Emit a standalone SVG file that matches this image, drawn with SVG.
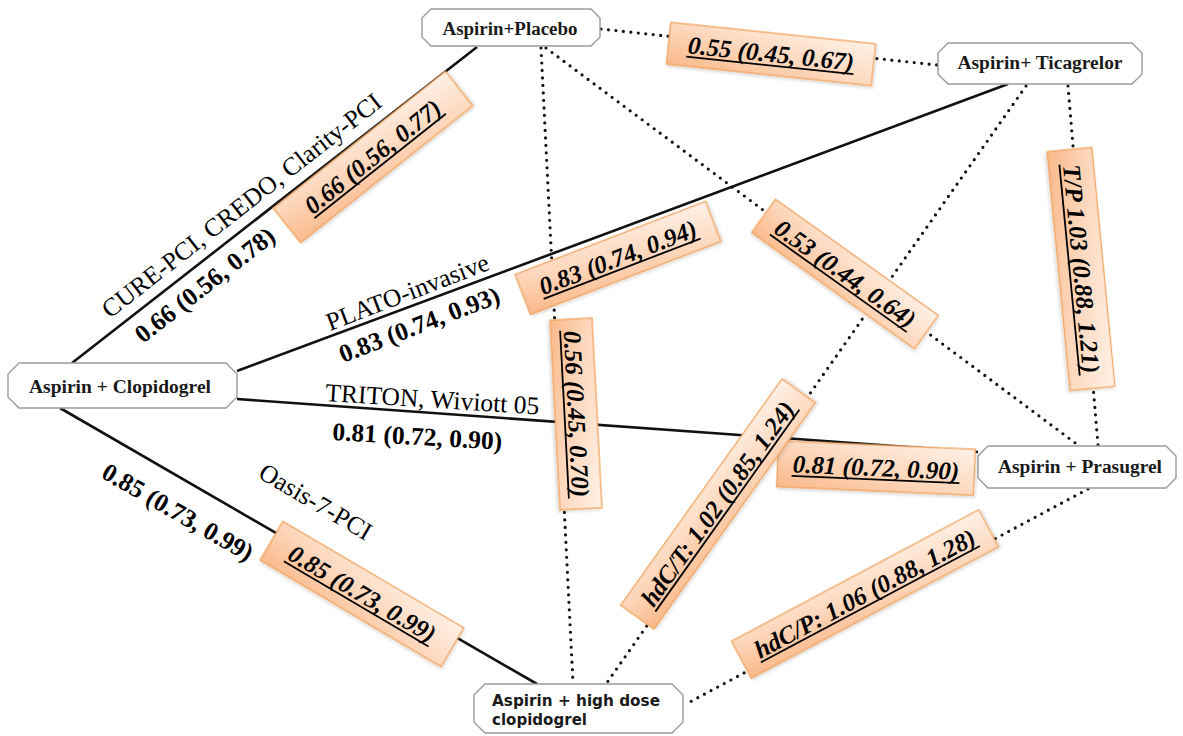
<svg xmlns="http://www.w3.org/2000/svg" width="1183" height="736" viewBox="0 0 1183 736">
<style>
.solid{stroke:#111;stroke-width:2.6;fill:none}
.dot{stroke:#111;stroke-width:3.2;fill:none;stroke-linecap:round;stroke-dasharray:0 7.5}
.node{fill:#fff;stroke:#9a9a9a;stroke-width:1.4}
.nt{font-family:"Liberation Serif",serif;font-weight:bold;font-size:18px;fill:#1a1a1a;text-anchor:middle}
.ns{font-family:"DejaVu Sans",sans-serif;font-weight:bold;font-size:15px;fill:#1a1a1a}
.b{fill:url(#og);stroke:#f2a45c;stroke-width:1.3;filter:url(#sh)}
.bt{font-family:"Liberation Serif",serif;font-weight:bold;font-style:italic;font-size:25px;fill:#000;text-anchor:middle}
.ul{stroke:#000;stroke-width:1.8}
.lr{font-family:"Liberation Serif",serif;font-size:25.5px;fill:#000}
.lb{font-family:"Liberation Serif",serif;font-weight:bold;font-size:25.5px;fill:#000}
</style>
<defs>
<linearGradient id="og" x1="0" y1="1" x2="1" y2="0">
<stop offset="0" stop-color="#f9b98a"/>
<stop offset="0.45" stop-color="#fdd6ba"/>
<stop offset="1" stop-color="#fff1e7"/>
</linearGradient>
<filter id="sh" x="-10%" y="-30%" width="120%" height="160%">
<feDropShadow dx="1.5" dy="2" stdDeviation="1.5" flood-color="#000" flood-opacity="0.15"/>
</filter>
</defs>
<rect width="1183" height="736" fill="#fff"/>
<g id="connectors">
<line class="solid" x1="72" y1="363" x2="477" y2="47"/>
<line class="solid" x1="237" y1="371" x2="1008" y2="84"/>
<line class="solid" x1="237" y1="399" x2="978" y2="452"/>
<line class="solid" x1="60" y1="408" x2="537" y2="684"/>
<line class="dot" x1="601" y1="29" x2="937" y2="65"/>
<line class="dot" x1="541" y1="48" x2="573" y2="683"/>
<line class="dot" x1="546" y1="48" x2="1078" y2="445"/>
<line class="dot" x1="1026" y1="86" x2="606" y2="684"/>
<line class="dot" x1="1068" y1="86" x2="1098" y2="445"/>
<line class="dot" x1="1088" y1="489" x2="686" y2="704"/>
</g>
<g id="node-placebo">
<polygon class="node" points="431,9 591,9 600,18 600,37 591,46 431,46 422,37 422,18"/>
<text class="nt" x="510" y="35" textLength="135" lengthAdjust="spacingAndGlyphs">Aspirin+Placebo</text>
</g>
<g id="node-ticagrelor">
<polygon class="node" points="948,43 1132,43 1142,53 1142,74 1132,84 948,84 938,74 938,53"/>
<text class="nt" x="1040" y="69" textLength="165" lengthAdjust="spacingAndGlyphs">Aspirin+ Ticagrelor</text>
</g>
<g id="node-clopidogrel">
<polygon class="node" points="19,363 226,363 237,374 237,397 226,408 19,408 8,397 8,374"/>
<text class="nt" x="120" y="393" textLength="182" lengthAdjust="spacingAndGlyphs">Aspirin + Clopidogrel</text>
</g>
<g id="node-prasugrel">
<polygon class="node" points="988,446 1166,446 1176,456 1176,478 1166,488 988,488 978,478 978,456"/>
<text class="nt" x="1080" y="473" textLength="164" lengthAdjust="spacingAndGlyphs">Aspirin + Prasugrel</text>
</g>
<g id="node-highdose">
<polygon class="node" points="485,684 672,684 683,695 683,722 672,733 485,733 474,722 474,695"/>
<text class="ns" x="492" y="706" textLength="168" lengthAdjust="spacingAndGlyphs">Aspirin + high dose</text>
<text class="ns" x="492" y="725" textLength="95" lengthAdjust="spacingAndGlyphs">clopidogrel</text>
</g>
<g id="edge-labels">
<g transform="translate(771,54) rotate(6)"><rect class="b" x="-103" y="-21" width="206" height="42"/><text class="bt" y="8">0.55 (0.45, 0.67)</text><line class="ul" x1="-84" y1="11.5" x2="84" y2="11.5"/></g>
<g transform="translate(373,157) rotate(-38.5)"><rect class="b" x="-110" y="-22" width="220" height="44"/><text class="bt" y="8">0.66 (0.56, 0.77)</text><line class="ul" x1="-84" y1="11.5" x2="84" y2="11.5"/></g>
<g transform="translate(618,258) rotate(-21)"><rect class="b" x="-102" y="-21.5" width="204" height="43"/><text class="bt" y="8">0.83 (0.74, 0.94)</text><line class="ul" x1="-84" y1="11.5" x2="84" y2="11.5"/></g>
<g transform="translate(845,274) rotate(35.5)"><rect class="b" x="-100" y="-20.5" width="200" height="41"/><text class="bt" y="8">0.53 (0.44, 0.64)</text><line class="ul" x1="-84" y1="11.5" x2="84" y2="11.5"/></g>
<g transform="translate(1081,269) rotate(84.5)"><rect class="b" x="-120" y="-22.5" width="240" height="45"/><text class="bt" y="8">T/P 1.03 (0.88, 1.21)</text><line class="ul" x1="-106" y1="11.5" x2="106" y2="11.5"/></g>
<g transform="translate(576,414) rotate(87)"><rect class="b" x="-95" y="-21" width="190" height="42"/><text class="bt" y="8">0.56 (0.45, 0.70)</text><line class="ul" x1="-84" y1="11.5" x2="84" y2="11.5"/></g>
<g transform="translate(876,468) rotate(2.5)"><rect class="b" x="-98.5" y="-23" width="197" height="46"/><text class="bt" y="8">0.81 (0.72, 0.90)</text><line class="ul" x1="-84" y1="11.5" x2="84" y2="11.5"/></g>
<g transform="translate(718,504) rotate(-54.5)"><rect class="b" x="-139" y="-20.5" width="278" height="41"/><text class="bt" y="8">hdC/T: 1.02 (0.85, 1.24)</text><line class="ul" x1="-124" y1="11.5" x2="124" y2="11.5"/></g>
<g transform="translate(865,594) rotate(-28)"><rect class="b" x="-140" y="-21" width="280" height="42"/><text class="bt" y="8">hdC/P: 1.06 (0.88, 1.28)</text><line class="ul" x1="-124" y1="11.5" x2="124" y2="11.5"/></g>
<g transform="translate(362,594) rotate(30.5)"><rect class="b" x="-105" y="-22.5" width="210" height="45"/><text class="bt" y="8">0.85 (0.73, 0.99)</text><line class="ul" x1="-84" y1="11.5" x2="84" y2="11.5"/></g>
</g>
<g id="line-labels">
<text class="lr" transform="translate(110,319) rotate(-38)">CURE-PCI, CREDO, Clarity-PCI</text>
<text class="lb" transform="translate(143,344) rotate(-38)">0.66 (0.56, 0.78)</text>
<text class="lr" transform="translate(330,331) rotate(-21)">PLATO-invasive</text>
<text class="lb" transform="translate(343,363) rotate(-21)">0.83 (0.74, 0.93)</text>
<text class="lr" transform="translate(325,401) rotate(3.6)">TRITON, Wiviott 05</text>
<text class="lb" transform="translate(332,440) rotate(3.3)">0.81 (0.72, 0.90)</text>
<text class="lr" transform="translate(257,477) rotate(30.5)">Oasis-7-PCI</text>
<text class="lb" transform="translate(100,477) rotate(30)">0.85 (0.73, 0.99)</text>
</g>
</svg>
